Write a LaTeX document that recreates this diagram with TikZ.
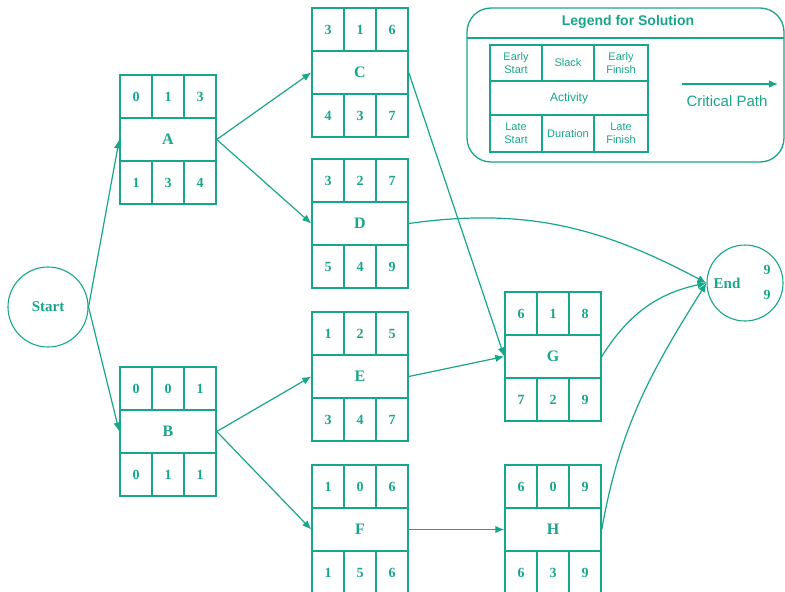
\documentclass[tikz,border=0pt]{standalone}
\usepackage{fontspec}
\setmainfont{Liberation Serif}
\newfontfamily\legfont{Liberation Sans}
\usetikzlibrary{arrows.meta}
\definecolor{teal1}{RGB}{24,166,138}
\newcommand\actbox[9]{%
\begin{scope}[shift={(#2)}]
\node[cell] (#1-es) at (16,-21.5) {#3};
\node[cell] (#1-sl) at (48,-21.5) {#4};
\node[cell] (#1-ef) at (80,-21.5) {#5};
\node[mid] (#1) at (48,-64.5) {#6};
\node[cell] (#1-ls) at (16,-107.5) {#7};
\node[cell] (#1-du) at (48,-107.5) {#8};
\node[cell] (#1-lf) at (80,-107.5) {#9};
\end{scope}}
\begin{document}
\begin{tikzpicture}[x=1pt,y=1pt,
  every node/.style={text=teal1},
  cell/.style={draw=teal1, line width=1.5pt, minimum width=32pt, minimum height=43pt, inner sep=0pt, font=\bfseries\fontsize{14}{14}\selectfont},
  mid/.style={draw=teal1, line width=1.5pt, minimum width=96pt, minimum height=43pt, inner sep=0pt, font=\bfseries\fontsize{16}{16}\selectfont},
  evt/.style={draw=teal1, line width=1.1pt, circle, inner sep=0pt, font=\fontsize{15}{15}\selectfont},
  conn/.style={draw=teal1, line width=1.2pt, -{Latex[length=9pt,width=7.5pt]}},
  legcell/.style={draw=teal1, line width=1.3pt, inner sep=0pt, align=center, font=\legfont\fontsize{11}{13}\selectfont},
]
\useasboundingbox (0,0) rectangle (785,-592);

% activity boxes
\actbox{A}{120,-75}{0}{1}{3}{A}{1}{3}{4}
\actbox{B}{120,-367}{0}{0}{1}{B}{0}{1}{1}
\actbox{C}{312,-8}{3}{1}{6}{C}{4}{3}{7}
\actbox{D}{312,-159}{3}{2}{7}{D}{5}{4}{9}
\actbox{E}{312,-312}{1}{2}{5}{E}{3}{4}{7}
\actbox{F}{312,-465}{1}{0}{6}{F}{1}{5}{6}
\actbox{G}{505,-292}{6}{1}{8}{G}{7}{2}{9}
\actbox{H}{505,-465}{6}{0}{9}{H}{6}{3}{9}

% events
\node[evt, minimum size=80pt, font=\bfseries\fontsize{15}{15}\selectfont] (start) at (48,-307) {Start};
\node[evt, minimum size=76pt] (end) at (745,-283) {};
\node[font=\bfseries\fontsize{15}{15}\selectfont] (endlbl) at (727,-283) {End};
\node[font=\bfseries\fontsize{14}{14}\selectfont] (endes) at (767,-270) {9};
\node[font=\bfseries\fontsize{14}{14}\selectfont] (endlf) at (767,-295) {9};

% connectors
\draw[conn] (start.east) -- (A.west);
\draw[conn] (start.east) -- (B.west);
\draw[conn] (A.east) -- (C.west);
\draw[conn] (A.east) -- (D.west);
\draw[conn] (C.east) -- (G.west);
\draw[conn] (B.east) -- (E.west);
\draw[conn] (B.east) -- (F.west);
\draw[conn] (E.east) -- (G.west);
\draw[conn] (F.east) -- (H.west);
\draw[conn] (D.east) to[out=8,in=152] (end.west);
\draw[conn] (G.east) to[out=58,in=192] (end.west);
\draw[conn] (H.east) to[out=80,in=238] (end.west);

% legend
\draw[teal1, line width=1.3pt, rounded corners=24pt] (467,-8) rectangle (784,-162);
\draw[teal1, line width=1.3pt] (467,-38) -- (784,-38);
\node[font=\legfont\bfseries\fontsize{14}{14}\selectfont] (legtitle) at (628,-22) {Legend for Solution};
\node[legcell, minimum width=52pt, minimum height=36pt] (leges) at (516,-63) {Early\\Start};
\node[legcell, minimum width=52pt, minimum height=36pt] (legsl) at (568,-63) {Slack};
\node[legcell, minimum width=54pt, minimum height=36pt] (legef) at (621,-63) {Early\\Finish};
\node[legcell, minimum width=158pt, minimum height=34pt, font=\legfont\fontsize{12}{13}\selectfont] (legact) at (569,-98) {Activity};
\node[legcell, minimum width=52pt, minimum height=37pt] (legls) at (516,-133.5) {Late\\Start};
\node[legcell, minimum width=52pt, minimum height=37pt] (legdu) at (568,-133.5) {Duration};
\node[legcell, minimum width=54pt, minimum height=37pt] (leglf) at (621,-133.5) {Late\\Finish};
\coordinate (cpa) at (682,-84);
\coordinate (cpb) at (778,-84);
\draw[conn] (cpa) -- (cpb);
\node[font=\legfont\fontsize{15}{15}\selectfont] (cptext) at (727,-101) {Critical Path};
\end{tikzpicture}
\end{document}
